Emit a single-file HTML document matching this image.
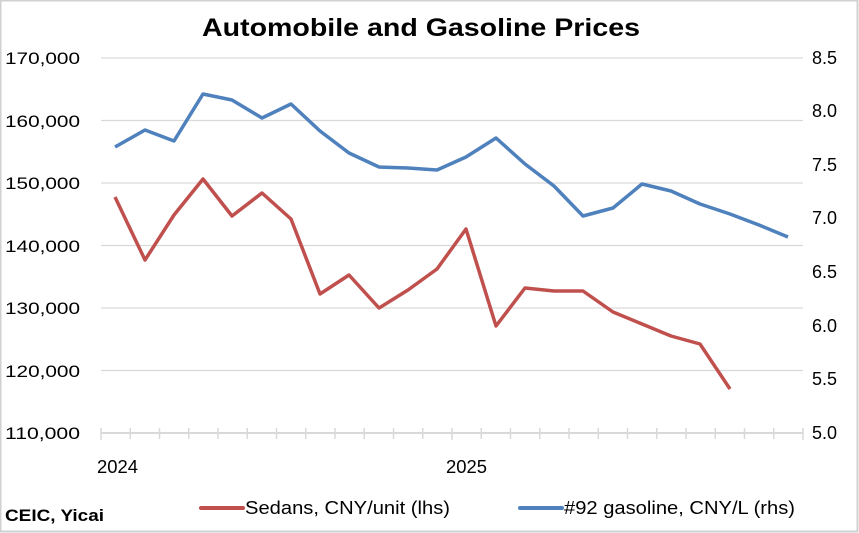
<!DOCTYPE html>
<html><head><meta charset="utf-8"><style>
html,body{margin:0;padding:0;background:#fff;}
svg{display:block;font-family:"Liberation Sans",sans-serif;}
</style></head><body>
<svg width="859" height="533" viewBox="0 0 859 533">
<rect x="0" y="0" width="859" height="533" fill="#fff"/>
<rect x="0.5" y="0.5" width="857" height="531" fill="none" stroke="#d0d0d0" stroke-width="2"/>
<text x="421" y="36" font-size="25" font-weight="bold" text-anchor="middle" fill="#000" textLength="438" lengthAdjust="spacingAndGlyphs">Automobile and Gasoline Prices</text>
<g stroke="#d9d9d9" stroke-width="1.3">
<line x1="101" y1="58" x2="803" y2="58"/>
<line x1="101" y1="120.5" x2="803" y2="120.5"/>
<line x1="101" y1="183" x2="803" y2="183"/>
<line x1="101" y1="245.5" x2="803" y2="245.5"/>
<line x1="101" y1="308" x2="803" y2="308"/>
<line x1="101" y1="370.5" x2="803" y2="370.5"/>
<line x1="101" y1="433" x2="803" y2="433" stroke-width="2"/>
</g>
<path stroke="#d9d9d9" stroke-width="1.5" fill="none" d="M101,428V440 M130.25,428V439 M159.5,428V439 M188.75,428V439 M218,428V439 M247.25,428V439 M276.5,428V439 M305.75,428V439 M335,428V439 M364.25,428V439 M393.5,428V439 M422.75,428V439 M452,428V440 M481.25,428V439 M510.5,428V439 M539.75,428V439 M569,428V439 M598.25,428V439 M627.5,428V439 M656.75,428V439 M686,428V439 M715.25,428V439 M744.5,428V439 M773.75,428V439 M803,428V440"/>
<g font-size="17" fill="#000" text-anchor="end">
<text x="80" y="64" textLength="75" lengthAdjust="spacingAndGlyphs">170,000</text>
<text x="80" y="127" textLength="75" lengthAdjust="spacingAndGlyphs">160,000</text>
<text x="80" y="189" textLength="75" lengthAdjust="spacingAndGlyphs">150,000</text>
<text x="80" y="252" textLength="75" lengthAdjust="spacingAndGlyphs">140,000</text>
<text x="80" y="314" textLength="75" lengthAdjust="spacingAndGlyphs">130,000</text>
<text x="80" y="377" textLength="75" lengthAdjust="spacingAndGlyphs">120,000</text>
<text x="80" y="439" textLength="75" lengthAdjust="spacingAndGlyphs">110,000</text>
</g>
<g font-size="18" fill="#000" text-anchor="start">
<text x="812" y="64">8.5</text><text x="812" y="117">8.0</text><text x="812" y="171">7.5</text>
<text x="812" y="224">7.0</text><text x="812" y="278">6.5</text><text x="812" y="332">6.0</text>
<text x="812" y="385">5.5</text><text x="812" y="439">5.0</text>
</g>
<g font-size="18" fill="#000">
<text x="97" y="473" textLength="41" lengthAdjust="spacingAndGlyphs">2024</text>
<text x="446" y="473" textLength="41" lengthAdjust="spacingAndGlyphs">2025</text>
</g>
<polyline fill="none" stroke="#4f81bd" stroke-width="3.5" stroke-linejoin="round" points="115,147 145,130 174,141 203,94 232,100 262,118 291,104 320,131 349,153 379,167 408,168 437,170 466,157 496,138 525,164 554,186 583,216 613,208 642,184 671,191 700,204 730,214 759,225 788,237"/>
<polyline fill="none" stroke="#c0504d" stroke-width="3.5" stroke-linejoin="round" points="115,197 145,260 174,215 203,179 232,216 262,193 291,219 320,294 349,275 379,308 408,290 437,269 466,229 496,326 525,288 554,291 583,291 613,312 642,324 671,336 700,344 730,389"/>
<text x="5" y="521" font-size="17" font-weight="bold" fill="#000" textLength="99" lengthAdjust="spacingAndGlyphs">CEIC, Yicai</text>
<line x1="201" y1="508" x2="243" y2="508" stroke="#c0504d" stroke-width="4" stroke-linecap="round"/>
<text x="245" y="514" font-size="18" fill="#000" textLength="205" lengthAdjust="spacingAndGlyphs">Sedans, CNY/unit (lhs)</text>
<line x1="520" y1="508" x2="562" y2="508" stroke="#4f81bd" stroke-width="4" stroke-linecap="round"/>
<text x="564" y="514" font-size="18" fill="#000" textLength="231" lengthAdjust="spacingAndGlyphs">#92 gasoline, CNY/L (rhs)</text>
</svg>
</body></html>
